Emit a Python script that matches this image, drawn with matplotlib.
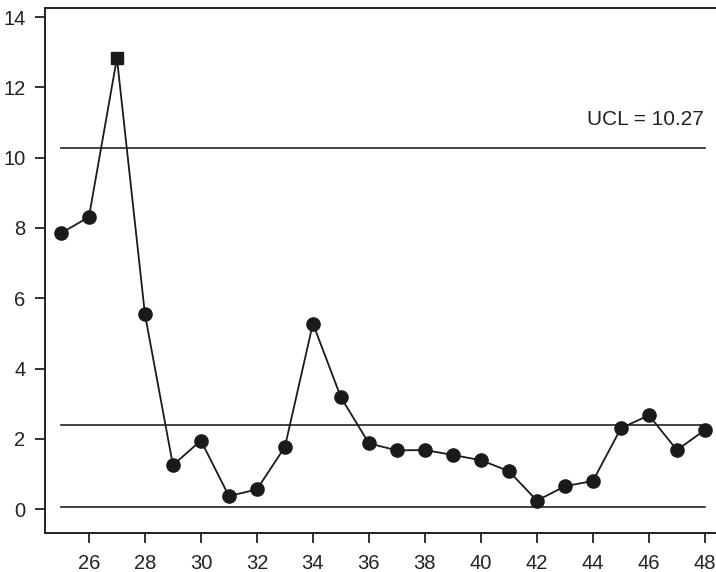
import matplotlib
matplotlib.use("Agg")
from matplotlib import pyplot as plt

plt.rcParams['font.family'] = ['Liberation Sans', 'DejaVu Sans']

# sample number and plotted statistic
samples = list(range(25, 49))
values = [7.85, 8.31, 12.83, 5.55, 1.25, 1.95, 0.37, 0.56, 1.77, 5.28, 3.18, 1.87,
          1.67, 1.68, 1.54, 1.39, 1.08, 0.24, 0.65, 0.80, 2.30, 2.67, 1.68, 2.25]
out_of_control = [27]

ucl = 10.27
center = 2.38
lcl = 0.05

x_ticks = list(range(26, 49, 2))
y_ticks = list(range(0, 15, 2))

fig = plt.figure(figsize=(7.16, 5.72), dpi=100)
ax = fig.add_axes([0.0628, 0.0682, 0.944, 0.918])

# control limits
for lim in (ucl, center, lcl):
    ax.plot([samples[0], samples[-1]], [lim, lim], color='#222222', lw=1.2, zorder=1)

ax.plot(samples, values, color='#1a1a1a', lw=1.3, zorder=2)
in_x = [s for s in samples if s not in out_of_control]
in_y = [v for s, v in zip(samples, values) if s not in out_of_control]
out_y = [v for s, v in zip(samples, values) if s in out_of_control]
ax.plot(in_x, in_y, 'o', color='#1a1a1a', ms=9.5, zorder=3)
ax.plot(out_of_control, out_y, 's', color='#1a1a1a', ms=8.5, zorder=3)

ax.text(samples[-1] - 0.05, ucl + 0.55, f"UCL = {ucl:.2f}", ha='right', va='bottom',
        fontsize=15, color='#222222')

ax.set_xlim(24.43, 48.57)
ax.set_ylim(-0.68, 14.26)
ax.set_xticks(x_ticks)
ax.set_yticks(y_ticks)
ax.tick_params(axis='both', labelsize=14.5, length=7, width=1.3, colors='#222222')
ax.tick_params(axis='x', pad=8)
ax.tick_params(axis='y', pad=7)
for side in ['left', 'bottom', 'top']:
    ax.spines[side].set_linewidth(1.4)
    ax.spines[side].set_color('#222222')
ax.spines['right'].set_visible(False)

fig.savefig("out.png", dpi=100)
